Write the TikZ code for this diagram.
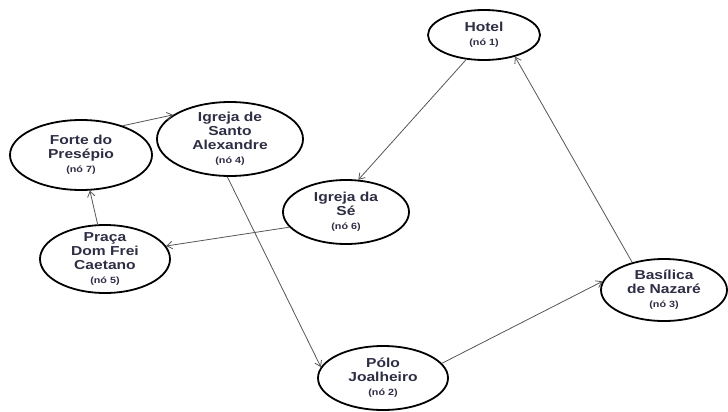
\documentclass[tikz,border=0pt]{standalone}
\usepackage{fontspec}
\setmainfont{Liberation Sans}
\newfontfamily\spotfont[FakeStretch=1.2]{Liberation Sans}
\usetikzlibrary{arrows.meta,shapes.geometric}
\definecolor{ink}{RGB}{45,45,68}
\definecolor{edgegray}{RGB}{85,85,90}
\tikzset{
  spot/.style={draw, ellipse, line width=1.8pt, inner sep=0pt},
  lbl/.style={align=center, text=ink, font=\spotfont\bfseries\fontsize{13}{14}\selectfont},
  arr/.style={-{Straight Barb[length=5.5pt,width=7.5pt]}, line width=0.8pt, draw=edgegray},
}
\newcommand{\ptno}[1]{{\fontsize{9}{9}\selectfont(nó #1)}}

\begin{document}
\begin{tikzpicture}[x=1pt, y=-1pt]
\useasboundingbox (0,0) rectangle (728,412);

% Visit points as ellipses
\foreach \nm/\x/\y/\w/\h/\txt in {
  hotel/484/35/112/50/{Hotel\\\ptno{1}},
  alex/230/139/146/74/{Igreja de\\Santo\\Alexandre\\\ptno{4}},
  forte/81/155/142/70/{Forte do\\Presépio\\\ptno{7}},
  se/346/212/126/64/{Igreja da\\Sé\\\ptno{6}},
  praca/105/259/130/68/{Praça\\Dom Frei\\Caetano\\\ptno{5}},
  basil/664/290/126/62/{Basílica\\de Nazaré\\\ptno{3}},
  polo/383/378/130/64/{Pólo\\Joalheiro\\\ptno{2}}} {
  \node[spot, minimum width=\w pt, minimum height=\h pt] (\nm) at (\x,\y) {};
  \node[lbl] (\nm-t) at (\nm) {\txt};
}

% Route between the points
\foreach \a/\b in {
  hotel.-126/se.69, se.195/praca.12, praca.102/forte.-76,
  forte.35/alex.157, alex.-94/polo.170, polo.14/basil.172,
  basil.139/hotel.-35} {
  \draw[arr] (\a) -- (\b);
}

\end{tikzpicture}
\end{document}
